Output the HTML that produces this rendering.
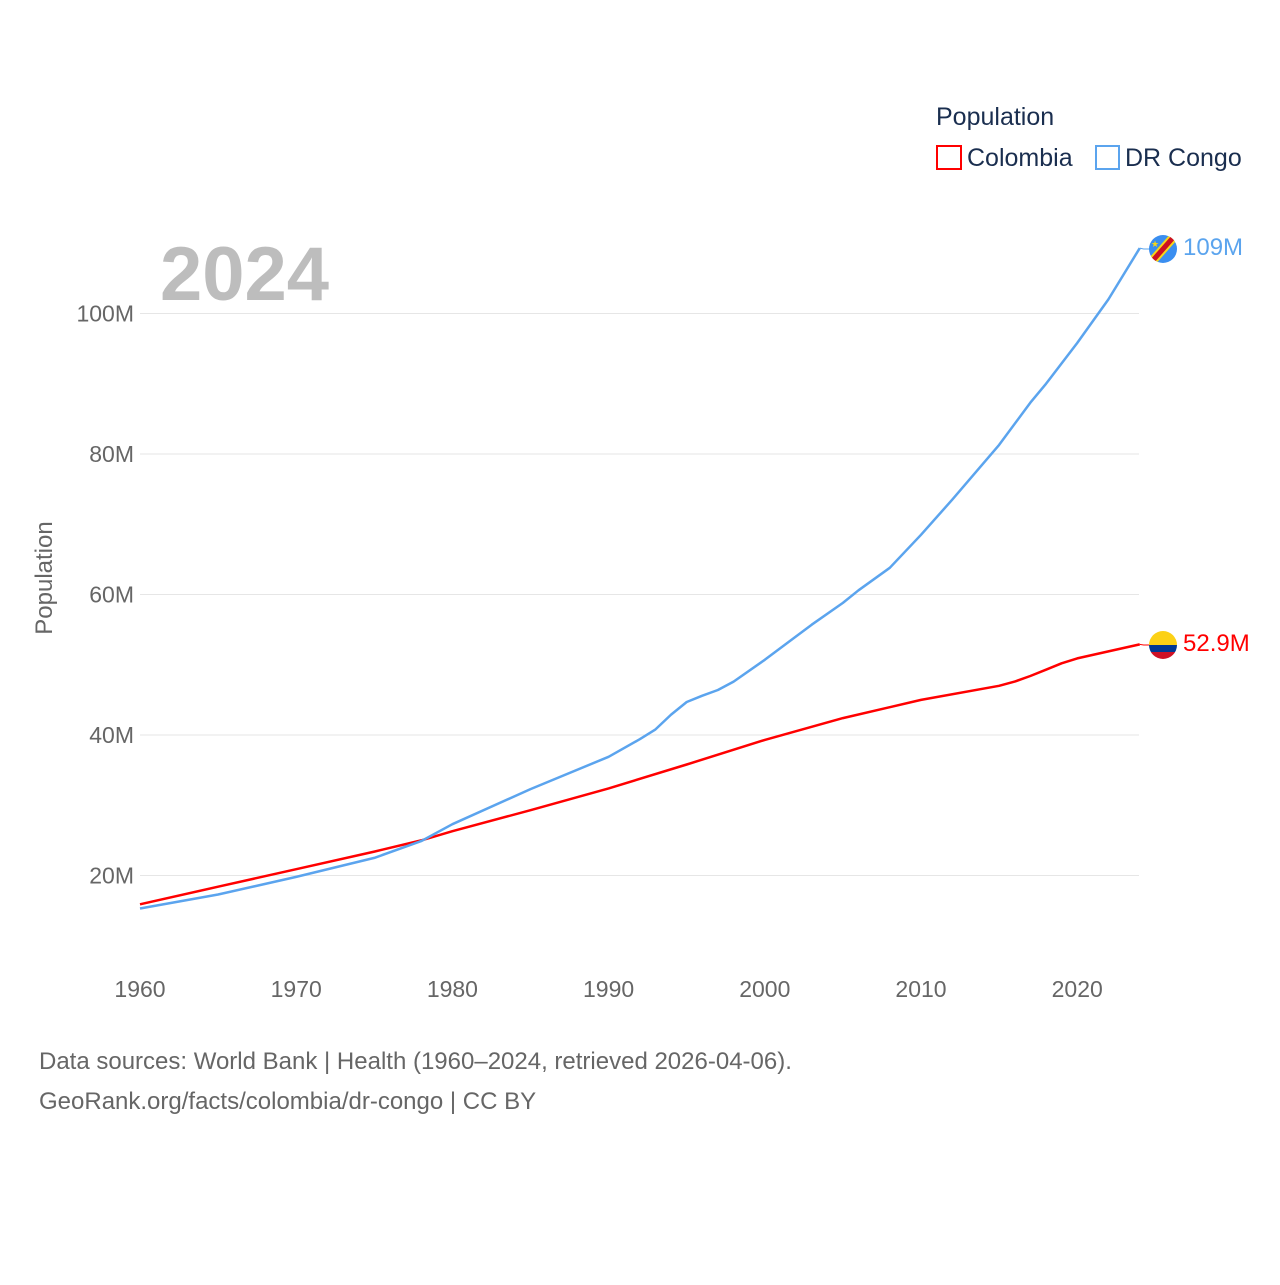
<!DOCTYPE html>
<html><head><meta charset="utf-8"><style>
body{margin:0;background:#fff;}
svg text{font-family:"Liberation Sans",sans-serif;}
</style></head><body>
<svg width="1280" height="1280" viewBox="0 0 1280 1280" xmlns="http://www.w3.org/2000/svg">
<g id="grid"></g>
<g id="axes"></g>
<text x="160" y="300" font-size="76" font-weight="bold" fill="#bdbdbd">2024</text>
<text x="52" y="578" font-size="24" fill="#666" transform="rotate(-90 52 578)" text-anchor="middle">Population</text>
<g>
<text x="936" y="125" font-size="25" fill="#1a2e4f">Population</text>
<g><rect x="937" y="146" width="24" height="23" fill="none" stroke="#ff0000" stroke-width="2"/><text x="967" y="166" font-size="25" fill="#1a2e4f">Colombia</text></g>
<g><rect x="1096" y="146" width="23" height="23" fill="none" stroke="#5ba4ee" stroke-width="2"/><text x="1125" y="166" font-size="25" fill="#1a2e4f">DR Congo</text></g>
</g>
<g id="series"></g>
<defs>
<clipPath id="c1"><circle cx="1163" cy="249" r="14"/></clipPath>
<clipPath id="c2"><circle cx="1163" cy="645" r="14"/></clipPath>
</defs>
<g clip-path="url(#c1)">
<rect x="1149" y="235" width="28" height="28" fill="#3a8ef0"/>
<line x1="1148" y1="266" x2="1178" y2="232" stroke="#f7d618" stroke-width="9"/>
<line x1="1148" y1="266" x2="1178" y2="232" stroke="#ce1021" stroke-width="5"/>
<text x="1151" y="247" font-size="9" fill="#f7d618">★</text>
</g>
<g clip-path="url(#c2)">
<rect x="1149" y="631" width="28" height="14" fill="#fcd116"/>
<rect x="1149" y="645" width="28" height="7" fill="#003893"/>
<rect x="1149" y="652" width="28" height="7" fill="#ce1126"/>
</g>
<text x="1183" y="255" font-size="24" fill="#5ba4ee">109M</text>
<text x="1183" y="651" font-size="24" fill="#ff0000">52.9M</text>
<text x="39" y="1069" font-size="24" fill="#666">Data sources: World Bank | Health (1960–2024, retrieved 2026-04-06).</text>
<text x="39" y="1109" font-size="24" fill="#666">GeoRank.org/facts/colombia/dr-congo | CC BY</text>
</svg>
<script>
const yTicks=[20,40,60,80,100];
const yTickLabels=["20M","40M","60M","80M","100M"];
const xTicks=[1960,1970,1980,1990,2000,2010,2020];
const colYears=[1960,1965,1970,1975,1978,1980,1985,1990,1995,2000,2005,2010,2015,2016,2017,2018,2019,2020,2022,2024];
const colValues=[15.9,18.4,20.9,23.4,25.0,26.3,29.3,32.4,35.8,39.3,42.4,45.0,47.0,47.6,48.4,49.3,50.2,50.9,51.9,52.9];
const drcYears=[1960,1965,1970,1975,1978,1980,1985,1990,1992,1993,1994,1995,1996,1997,1998,2000,2003,2005,2006,2008,2010,2012,2015,2017,2018,2020,2022,2024];
const drcValues=[15.3,17.3,19.8,22.5,24.9,27.3,32.3,36.9,39.4,40.8,42.9,44.7,45.6,46.4,47.6,50.7,55.7,58.8,60.6,63.8,68.5,73.5,81.3,87.3,90.0,95.8,102.0,109.3];
const NS="http://www.w3.org/2000/svg";
const xs=y=>140+(y-1960)*15.62;
const ys=v=>1016-v*7.025;
const grid=document.getElementById('grid'),axes=document.getElementById('axes'),ser=document.getElementById('series');
yTicks.forEach((t,i)=>{
 const l=document.createElementNS(NS,'line');
 l.setAttribute('x1',140);l.setAttribute('x2',1139);l.setAttribute('y1',ys(t));l.setAttribute('y2',ys(t));
 l.setAttribute('stroke','#e6e6e6');
 
 
 grid.appendChild(l);
 const tx=document.createElementNS(NS,'text');
 tx.setAttribute('x',134);tx.setAttribute('y',ys(t)+8);tx.setAttribute('text-anchor','end');
 tx.setAttribute('font-size','23');tx.setAttribute('fill','#666');tx.textContent=yTickLabels[i];
 
 
 axes.appendChild(tx);
});
xTicks.forEach(t=>{
 const tx=document.createElementNS(NS,'text');
 tx.setAttribute('x',xs(t));tx.setAttribute('y',997);tx.setAttribute('text-anchor','middle');
 tx.setAttribute('font-size','23');tx.setAttribute('fill','#666');tx.textContent=t;
 
 
 axes.appendChild(tx);
});
function line(years,vals,color,name,cy){
 const p=document.createElementNS(NS,'path');
 let d=years.map((y,i)=>(i?'L':'M')+xs(y).toFixed(1)+','+ys(vals[i]).toFixed(1)).join('');
 p.setAttribute('d',d);p.setAttribute('fill','none');p.setAttribute('stroke',color);p.setAttribute('stroke-width','2.5');
 p.setAttribute('stroke-linejoin','round');
 
 
 ser.appendChild(p);
 const lx=xs(years[years.length-1]),ly=ys(vals[vals.length-1]);
 const c=document.createElementNS(NS,'path');
 c.setAttribute('d',`M${lx},${ly}L${lx+4},${cy}L${lx+10},${cy}`);
 c.setAttribute('fill','none');c.setAttribute('stroke',color);c.setAttribute('stroke-width','1');
 
 
 ser.appendChild(c);
}
line(colYears,colValues,'#ff0000','colombia-line',645);
line(drcYears,drcValues,'#5ba4ee','dr-congo-line',249);
</script>
</body></html>
